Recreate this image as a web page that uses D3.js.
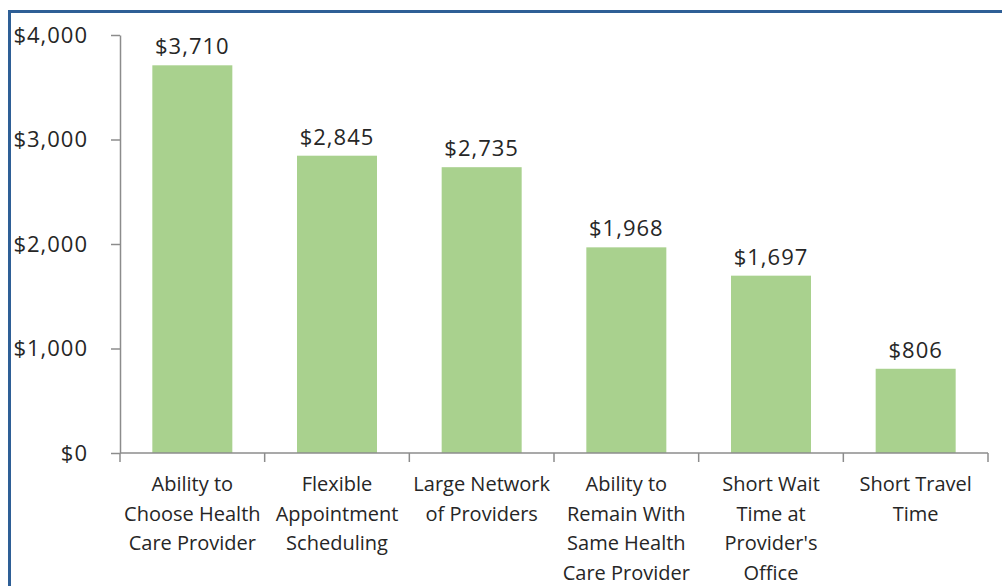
<!DOCTYPE html>
<html>
<head>
<meta charset="utf-8">
<script src="https://cdn.jsdelivr.net/npm/d3@7"></script>
<style>
  body { margin: 0; background: #fff; }
  text { font-family: "Open Sans", sans-serif; fill: #262626; }
</style>
</head>
<body>
<div id="chart"></div>
<script>
// values
var categories = [
  "Ability to Choose Health Care Provider",
  "Flexible Appointment Scheduling",
  "Large Network of Providers",
  "Ability to Remain With Same Health Care Provider",
  "Short Wait Time at Provider's Office",
  "Short Travel Time"
];
var labelLines = [
  ["Ability to", "Choose Health", "Care Provider"],
  ["Flexible", "Appointment", "Scheduling"],
  ["Large Network", "of Providers"],
  ["Ability to", "Remain With", "Same Health", "Care Provider"],
  ["Short Wait", "Time at", "Provider's", "Office"],
  ["Short Travel", "Time"]
];
var values = [3710, 2845, 2735, 1968, 1697, 806];
var yTicks = [0, 1000, 2000, 3000, 4000];

var W = 1002, H = 586;
var plotLeft = 120, plotRight = 988, plotTop = 35, plotBottom = 453;

var svg = d3.select("#chart").append("svg").attr("width", W).attr("height", H);

// outer blue frame (only left and top visible in the picture)
svg.append("rect")
  .attr("x", 9.5).attr("y", 11.5)
  .attr("width", 1010).attr("height", 600)
  .attr("fill", "none").attr("stroke", "#2e5f96").attr("stroke-width", 3);

var x = d3.scaleBand().domain(categories).range([plotLeft, plotRight])
  .paddingInner(0.447).paddingOuter(0.2235);
var y = d3.scaleLinear().domain([0, 4000]).range([plotBottom, plotTop]);

// bars
svg.selectAll("rect.bar")
  .data(values)
  .enter().append("rect")
  .attr("class", "bar")
  .attr("x", function(d, i) { return x(categories[i]); })
  .attr("y", function(d) { return y(d); })
  .attr("width", x.bandwidth())
  .attr("height", function(d) { return y(0) - y(d); })
  .attr("fill", "#a9d18e");

// value labels
svg.selectAll("text.val")
  .data(values)
  .enter().append("text")
  .attr("class", "val")
  .attr("x", function(d, i) { return x(categories[i]) + x.bandwidth() / 2; })
  .attr("y", function(d) { return y(d) - 11; })
  .attr("text-anchor", "middle")
  .style("font-size", "22px")
  .style("letter-spacing", "1px")
  .text(function(d) { return "$" + d3.format(",")(d); });

// y axis
var yAxis = svg.append("g")
  .attr("transform", "translate(" + plotLeft + ",0)")
  .call(d3.axisLeft(y).tickValues(yTicks).tickSize(9).tickSizeOuter(0).tickPadding(23)
    .tickFormat(function(d) { return "$" + d3.format(",")(d); }));
yAxis.select(".domain").attr("stroke", "#8c8c8c").attr("stroke-width", 1.5);
yAxis.selectAll(".tick line").attr("stroke", "#8c8c8c").attr("stroke-width", 1.5);
yAxis.selectAll(".tick text")
  .style("font-size", "22px").style("letter-spacing", "1px")
  .style("font-family", "'Open Sans', sans-serif").attr("fill", "#262626");

// x axis line and category boundary ticks
var bounds = categories.map(function(c) { return x(c) - x.step() * x.paddingOuter(); });
bounds.push(plotRight);
svg.append("line")
  .attr("x1", plotLeft).attr("x2", plotRight)
  .attr("y1", plotBottom).attr("y2", plotBottom)
  .attr("stroke", "#8c8c8c").attr("stroke-width", 1.5);
svg.selectAll("line.xtick")
  .data(bounds)
  .enter().append("line")
  .attr("class", "xtick")
  .attr("x1", function(d) { return d; }).attr("x2", function(d) { return d; })
  .attr("y1", plotBottom).attr("y2", plotBottom + 9)
  .attr("stroke", "#8c8c8c").attr("stroke-width", 1.5);

// category labels
var cat = svg.selectAll("text.cat")
  .data(categories)
  .enter().append("text")
  .attr("class", "cat")
  .attr("text-anchor", "middle")
  .style("font-size", "20px");
cat.each(function(c, i) {
  var t = d3.select(this);
  labelLines[i].forEach(function(line, j) {
    t.append("tspan")
      .attr("x", x(c) + x.bandwidth() / 2)
      .attr("y", 491 + j * 29.5)
      .text(line);
  });
});
</script>
</body>
</html>
